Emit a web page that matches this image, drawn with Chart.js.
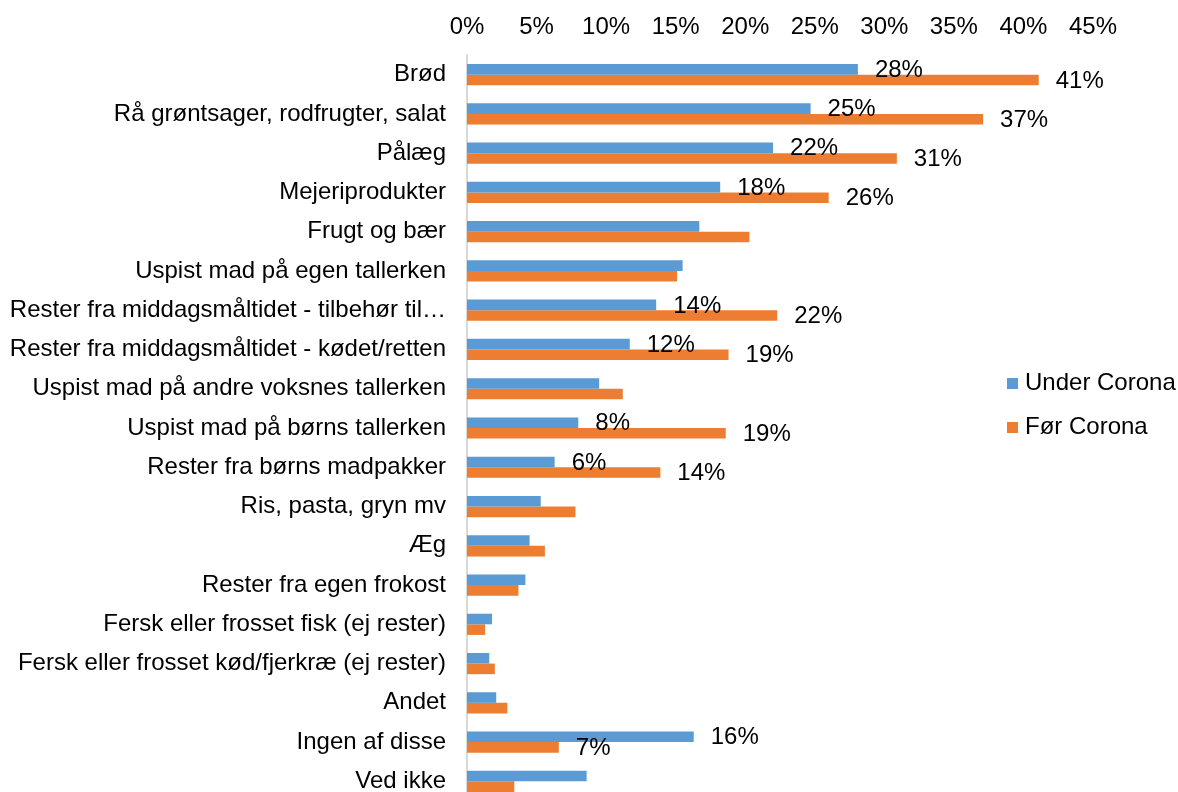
<!DOCTYPE html>
<html>
<head>
<meta charset="utf-8">
<script src="https://cdn.jsdelivr.net/npm/chart.js@4.4.0/dist/chart.umd.min.js"></script>
<style>
  html, body { margin: 0; padding: 0; background: #fff; overflow: hidden; }
  canvas { display: block; }
</style>
</head>
<body>
<canvas id="chart" width="1178" height="802"></canvas>
<script>
const categories = [
  'Brød',
  'Rå grøntsager, rodfrugter, salat',
  'Pålæg',
  'Mejeriprodukter',
  'Frugt og bær',
  'Uspist mad på egen tallerken',
  'Rester fra middagsmåltidet - tilbehør til…',
  'Rester fra middagsmåltidet - kødet/retten',
  'Uspist mad på andre voksnes tallerken',
  'Uspist mad på børns tallerken',
  'Rester fra børns madpakker',
  'Ris, pasta, gryn mv',
  'Æg',
  'Rester fra egen frokost',
  'Fersk eller frosset fisk (ej rester)',
  'Fersk eller frosset kød/fjerkræ (ej rester)',
  'Andet',
  'Ingen af disse',
  'Ved ikke'
];
const underCorona = [28.1, 24.7, 22.0, 18.2, 16.7, 15.5, 13.6, 11.7, 9.5, 8.0, 6.3, 5.3, 4.5, 4.2, 1.8, 1.6, 2.1, 16.3, 8.6];
const forCorona   = [41.1, 37.1, 30.9, 26.0, 20.3, 15.1, 22.3, 18.8, 11.2, 18.6, 13.9, 7.8, 5.6, 3.7, 1.3, 2.0, 2.9, 6.6, 3.4];
// which categories carry value labels
const showLabels = [true, true, true, true, false, false, true, true, false, true, true,
                    false, false, false, false, false, false, true, false];

const FONT = '"Liberation Sans", Arial, sans-serif';
const FSIZE = 24;

// value labels to the right of the bars
const barLabels = {
  id: 'barLabels',
  afterDatasetsDraw(chart) {
    const ctx = chart.ctx;
    ctx.save();
    ctx.font = FSIZE + 'px ' + FONT;
    ctx.fillStyle = '#000';
    ctx.textBaseline = 'middle';
    ctx.textAlign = 'left';
    chart.data.datasets.forEach((ds, di) => {
      chart.getDatasetMeta(di).data.forEach((bar, i) => {
        if (!showLabels[i]) return;
        ctx.fillText(Math.round(ds.data[i]) + '%', bar.x + 17, bar.y + 1);
      });
    });
    ctx.restore();
  }
};

// legend drawn over the right side of the plot, like in Excel
const sideLegend = {
  id: 'sideLegend',
  afterDraw(chart) {
    const ctx = chart.ctx;
    ctx.save();
    ctx.font = FSIZE + 'px ' + FONT;
    ctx.textBaseline = 'middle';
    chart.data.datasets.forEach((ds, i) => {
      const y = 383 + i * 44;
      ctx.fillStyle = ds.backgroundColor;
      ctx.fillRect(1007, y - 5, 11, 11);
      ctx.fillStyle = '#000';
      ctx.fillText(ds.label, 1025, y);
    });
    ctx.restore();
  }
};

new Chart(document.getElementById('chart'), {
  type: 'bar',
  data: {
    labels: categories,
    datasets: [
      { label: 'Under Corona', data: underCorona, backgroundColor: '#5B9BD5' },
      { label: 'Før Corona', data: forCorona, backgroundColor: '#ED7D31' }
    ]
  },
  options: {
    indexAxis: 'y',
    responsive: false,
    animation: false,
    devicePixelRatio: 1,
    layout: { padding: { left: 0, right: 85, top: 0, bottom: 1 } },
    categoryPercentage: 0.54,
    barPercentage: 1.0,
    plugins: {
      legend: { display: false },
      tooltip: { enabled: false }
    },
    scales: {
      x: {
        position: 'top',
        min: 0,
        max: 45,
        ticks: {
          stepSize: 5,
          padding: 13,
          color: '#000',
          font: { family: FONT, size: FSIZE },
          callback: v => v + '%'
        },
        grid: { display: false, drawTicks: false },
        border: { display: false },
        afterFit: s => { s.height = 55; }
      },
      y: {
        ticks: {
          padding: 21,
          color: '#000',
          font: { family: FONT, size: FSIZE }
        },
        grid: { display: false, drawTicks: false },
        border: { display: true, color: '#d9d9d9', width: 2 },
        afterFit: s => {
          s.width = 467;
          s.paddingTop = 0;
          s.paddingBottom = 0;
        }
      }
    }
  },
  plugins: [barLabels, sideLegend]
});
</script>
</body>
</html>
